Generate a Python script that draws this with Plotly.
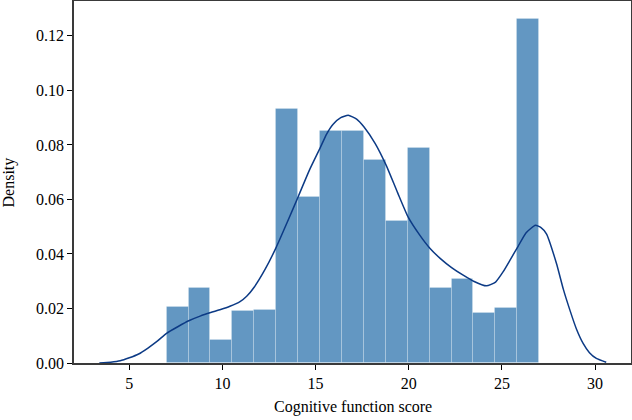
import plotly.graph_objects as go

# Histogram (density)
bin_start = 7.0
bin_end = 27.0
n_bins = 17
density = [0.0207, 0.0274, 0.0083, 0.0190, 0.0195, 0.0931, 0.0610, 0.0852,
           0.0852, 0.0745, 0.0522, 0.0790, 0.0274, 0.0307, 0.0183, 0.0201, 0.1261]

# KDE curve points
kde_x = [3.39, 4.0, 4.51, 5.0, 5.5, 6.0, 6.5, 7.0, 7.6, 8.19, 8.8, 9.37, 9.9,
         10.4, 10.94, 11.3, 11.71, 12.3, 12.89, 13.5, 14.07, 14.65, 15.25, 15.59,
         15.94, 16.35, 16.75, 17.2, 17.6, 18.2, 18.79, 19.4, 19.97, 20.6, 21.12,
         21.7, 22.3, 22.9, 23.48, 24.17, 24.66, 25.06, 25.5, 25.87, 26.3, 26.8,
         27.1, 27.39, 27.93, 28.3, 28.65, 29.0, 29.36, 29.7, 30.07, 30.6]
kde_y = [0.0, 0.0003, 0.0008, 0.0019, 0.0033, 0.0055, 0.0080, 0.0109, 0.0133,
         0.0155, 0.0172, 0.0185, 0.0196, 0.0208, 0.0225, 0.0245, 0.0279, 0.0345,
         0.0425, 0.0520, 0.0611, 0.0705, 0.0790, 0.0840, 0.0876, 0.0900, 0.0909,
         0.0895, 0.0866, 0.0805, 0.0725, 0.0625, 0.0535, 0.0468, 0.0422, 0.0383,
         0.0350, 0.0323, 0.0300, 0.0283, 0.0297, 0.0334, 0.0385, 0.0428, 0.0478,
         0.0505, 0.0497, 0.0474, 0.0365, 0.0270, 0.0194, 0.0125, 0.0072, 0.0038,
         0.0017, 0.0003]

x_ticks = [5, 10, 15, 20, 25, 30]
y_ticks = [0.00, 0.02, 0.04, 0.06, 0.08, 0.10, 0.12]
y_tick_labels = ["0.00", "0.02", "0.04", "0.06", "0.08", "0.10", "0.12"]

x_title = "Cognitive function score"
y_title = "Density"

width = (bin_end - bin_start) / n_bins
centers = [bin_start + width * (i + 0.5) for i in range(n_bins)]

font_family = "Liberation Serif"

fig = go.Figure()
fig.add_trace(go.Bar(
    x=centers, y=density, width=[width] * n_bins,
    marker=dict(color="rgb(99,151,194)", line=dict(color="rgba(255,255,255,0.2)", width=1)),
    showlegend=False, hoverinfo="skip",
))
fig.add_trace(go.Scatter(
    x=kde_x, y=kde_y, mode="lines",
    line=dict(color="#0c3a85", width=1.5, shape="spline", smoothing=0.5),
    showlegend=False,
))

fig.update_layout(
    width=632, height=420,
    margin=dict(l=74, r=1, t=1, b=57, autoexpand=False),
    paper_bgcolor="white", plot_bgcolor="white",
    font=dict(family=font_family, size=16, color="black"),
    bargap=0,
    annotations=[
        dict(text=x_title, xref="paper", yref="paper", x=0.5, y=-0.1215,
             xanchor="center", yanchor="middle", showarrow=False,
             font=dict(family=font_family, size=16, color="black")),
        dict(text=y_title, xref="paper", yref="paper", x=-0.1158, y=0.5,
             xanchor="center", yanchor="middle", showarrow=False, textangle=-90,
             font=dict(family=font_family, size=16, color="black")),
    ],
)
fig.update_xaxes(
    range=[2.03, 31.93], tickvals=x_ticks, ticks="outside", ticklen=5,
    tickcolor="black", showgrid=False, zeroline=False, automargin=False,
    showline=True, linecolor="#3a3a3a", linewidth=1.5, mirror=True,
    tickfont=dict(family=font_family, size=16),
)
fig.update_yaxes(
    range=[0, 0.1328], tickvals=y_ticks, ticktext=y_tick_labels, ticks="outside",
    ticklen=5, tickcolor="black", showgrid=False, zeroline=False, automargin=False,
    showline=True, linecolor="#3a3a3a", linewidth=1.5, mirror=True,
    tickfont=dict(family=font_family, size=16),
)

fig.write_html("out.html", config={"displayModeBar": False},
               post_script="document.body.style.margin='0';")
